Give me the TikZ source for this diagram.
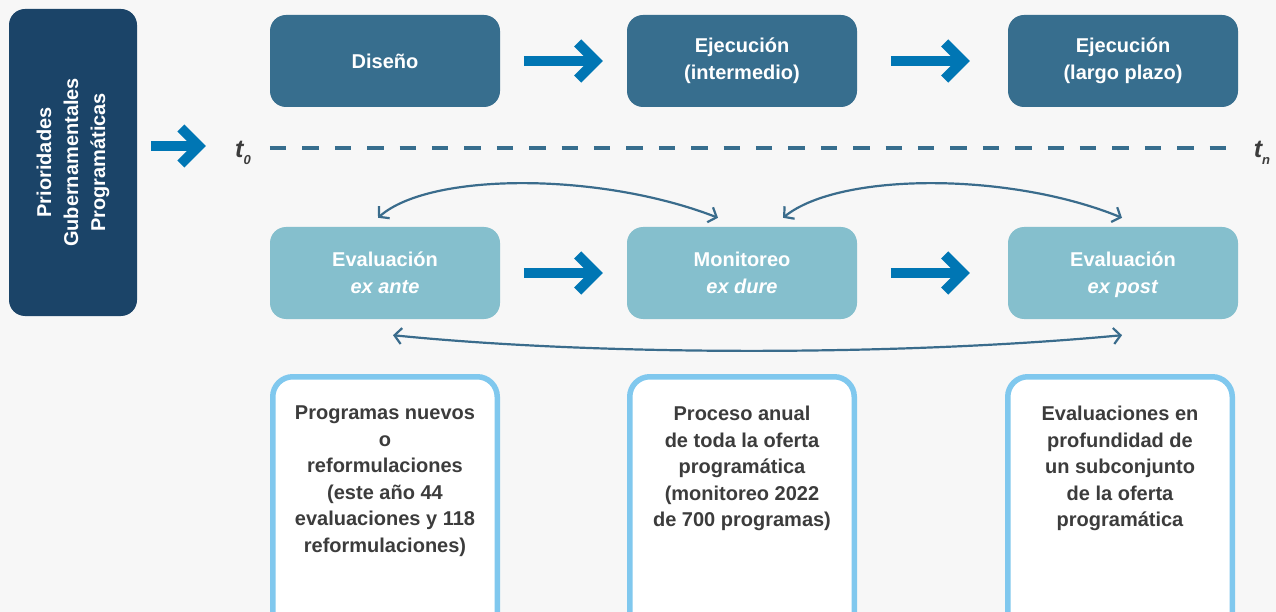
\documentclass[tikz,border=0pt]{standalone}
\usepackage{fontspec}
\setmainfont{Liberation Sans}
\usetikzlibrary{arrows.meta,calc}
\definecolor{bgc}{HTML}{F7F7F7}
\definecolor{navy}{HTML}{1B4468}
\definecolor{topc}{HTML}{376E8E}
\definecolor{midc}{HTML}{85BFCD}
\definecolor{arrowc}{HTML}{0076B4}
\definecolor{curvec}{HTML}{3A6C8C}
\definecolor{borderc}{HTML}{80C8EE}
\definecolor{textc}{HTML}{3C3C3C}
\begin{document}
\begin{tikzpicture}[x=1pt,y=-1pt,
  basebox/.style={rounded corners=16pt, inner sep=0pt, align=center,
    font=\fontsize{20}{27}\selectfont\bfseries, text=white},
  navybox/.style={basebox, fill=navy, minimum width=307pt, minimum height=128pt, rotate=90},
  topbox/.style={basebox, fill=topc, minimum width=230pt, minimum height=92pt},
  midbox/.style={basebox, fill=midc, minimum width=230pt, minimum height=92pt},
  infobox/.style={draw=borderc, line width=5.5pt, fill=white, rounded corners=20pt,
    minimum width=224.5pt, minimum height=262pt, inner sep=0pt},
  infotext/.style={anchor=north, align=center, inner sep=0pt, text=textc,
    font=\fontsize{20}{26.5}\selectfont\bfseries},
  fatline/.style={draw=arrowc, line width=10pt},
  pics/fatarrow/.style={code={
    \draw[fatline] (#1,0) -- (-9,0);
    \draw[fatline, miter limit=4] (-25.1,-18) -- (-7.1,0) -- (-25.1,18);
  }},
  curvearrow/.style={draw=curvec, line width=2.2pt,
    {Straight Barb[length=7pt,width=16pt]}-{Straight Barb[length=7pt,width=16pt]}},
  tlabel/.style={inner sep=0pt, text=textc}
]
\useasboundingbox (0,0) rectangle (1276,612);
\fill[bgc] (0,0) rectangle (1276,612);
\clip (0,0) rectangle (1276,612);

% left box
\node[navybox] (L) at (73,162.5) {Prioridades\\Gubernamentales\\Programáticas};

% top row
\node[topbox] (d) at (385,61) {Diseño};
\node[topbox] (e) at (742,61) {Ejecución\\(intermedio)};
\node[topbox] (f) at (1123,61) {Ejecución\\(largo plazo)};

% middle row
\node[midbox] (ea) at (385,273) {Evaluación\\\textit{ex ante}};
\node[midbox] (m) at (742,273) {Monitoreo\\\textit{ex dure}};
\node[midbox] (ep) at (1123,273) {Evaluación\\\raisebox{0pt}[\height][0pt]{\textit{ex post}}};

% bottom boxes
\node[infobox] (b1) at (385,507.75) {};
\node[infobox] (b2) at (742,507.75) {};
\node[infobox] (b3) at (1120,507.75) {};
\node[infotext] (b1t) at ($(b1.north)+(0,32)$) {Programas nuevos\\o\\reformulaciones\\(este año 44\\evaluaciones y 118\\reformulaciones)};
\node[infotext] (b2t) at ($(b2.north)+(0,32)$) {Proceso anual\\de toda la oferta\\programática\\(monitoreo 2022\\de 700 programas)};
\node[infotext] (b3t) at ($(b3.north)+(0,32)$) {Evaluaciones en\\profundidad de\\un subconjunto\\de la oferta\\programática};

% timeline
\node[tlabel] (t0) at (243,153) {\fontsize{25}{25}\selectfont\bfseries\itshape t\raisebox{-7pt}{\fontsize{13}{13}\selectfont 0}};
\node[tlabel] (tn) at (1262,153) {\fontsize{25}{25}\selectfont\bfseries\itshape t\raisebox{-7pt}{\fontsize{13}{13}\selectfont n}};
\coordinate (ts) at ($(t0.east)+(19,-5)$);
\coordinate (te) at ($(tn.west)+(-21,-5)$);
\draw[draw=topc, line width=4.5pt, dash pattern=on 16.4pt off 16pt] (ts) -- (te);

% fat arrows
\coordinate (la) at (206,146);
\pic at (la) {fatarrow=-55};
\pic at ([xshift=-24pt]e.west) {fatarrow=-79};
\pic at ([xshift=-38pt]f.west) {fatarrow=-79};
\pic at ([xshift=-24pt]m.west) {fatarrow=-79};
\pic at ([xshift=-38pt]ep.west) {fatarrow=-79};

% curved arrows
\draw[curvearrow] ([shift={(-7,-9)}]ea.north) .. controls (430,172) and (600,172) .. ([shift={(-24,-9)}]m.north);
\draw[curvearrow] ([shift={(41,-9)}]m.north) .. controls (840,172) and (1010,172) .. ([shift={(-1,-9)}]ep.north);
\draw[curvearrow] ([shift={(8,16)}]ea.south) .. controls (600,356) and (900,356) .. ([shift={(-1,16)}]ep.south);
\end{tikzpicture}
\end{document}
